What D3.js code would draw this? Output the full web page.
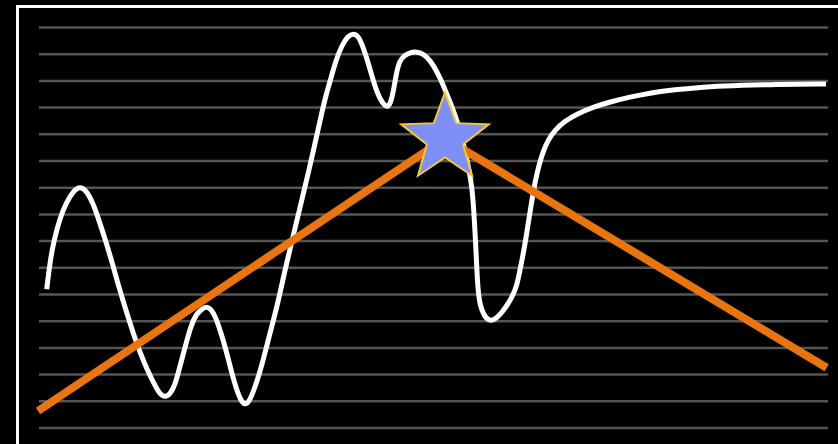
<!DOCTYPE html>
<head>
    <meta charset="utf-8" />
    <script src="https://d3js.org/d3.v7.min.js"></script>
    <style>
        body {
            margin: 0;
            background: #000;
            overflow: hidden;
        }
    </style>
    <title>chart</title>
</head>

<body>
    <script>
        // white curve (x: 0..790, y: 0..400.5)
        var curveX = [8.7, 12, 16, 22, 28, 36, 42, 48, 55, 60, 67, 75, 81, 88, 95, 102, 110, 117,
            122, 127, 132, 137, 141, 145, 149, 153, 158, 165, 169.3, 173.5, 178, 183, 188, 193,
            198, 203, 207, 211, 216, 221, 226, 231, 236, 241, 247, 253, 259, 265, 271, 276, 280,
            284, 288, 293, 298, 304, 310, 315.3, 320.5, 325, 330, 335, 340, 345, 349.3, 352.5,
            356, 359, 362, 367, 372, 378.7, 385, 392, 398, 403, 408, 412, 417, 422, 427, 431,
            434, 436, 437.5, 438.7, 440, 442, 446, 452, 459, 465, 470, 475, 479, 482, 485, 488,
            491, 494, 497, 501, 505, 510, 517, 527, 539, 555, 572, 592, 612, 632, 657, 682, 732, 788];
        var curveY = [138.2, 165.5, 187.5, 209.5, 224.5, 237.5, 240.8, 237.5, 224.5, 210, 189,
            162, 140, 117, 95, 75, 56, 42, 33, 30.5, 33, 42.5, 57.5, 72.5, 87.5,
            101.5, 113.5, 119.5, 120.8, 118, 109.5, 94.5, 77.5, 57.5, 39.5, 26.5, 22.5, 25.5,
            37.5, 52.5, 70.5, 90.5, 109.5, 129.5, 157.5, 182.5, 207.5, 232.5, 257.5, 279.5,
            297.5, 315.5, 332.5, 349.5, 367.5, 382.5, 391.5, 394.2, 391.5, 380.5, 365.5, 347.5,
            332.5, 323.5, 320.2, 323.5, 339.5, 357.5, 367.5, 372.5, 375, 375.8, 374, 367.5,
            357.5, 347.5, 335.5, 325.5, 312.5, 297.5, 277.5, 257.5, 240.5, 214.5, 187.5, 160.5,
            137.5, 122.5, 111.5, 105.8, 109.5, 116.5, 123.5, 132.5, 142.5, 157.5, 172.5, 189.5,
            209.5, 227.5, 245.5, 262.5, 275.5, 287.5, 297.5, 306.5, 313.5, 320.5, 325.5, 330.5,
            334.5, 337.5, 339.5, 341.5, 343, 343.5];

        // orange line
        var lineX = [0, 407, 788.7];
        var lineY = [16.5, 289, 59.8];

        // star marker
        var starX = 407, starY = 289;

        var gridValues = d3.range(16).map(i => i * 26.7);

        var width = 838,
            height = 444;

        var svg = d3.select("body").append("svg")
            .attr("width", width)
            .attr("height", height);

        svg.append("rect")
            .attr("width", width).attr("height", height)
            .attr("fill", "#000");

        // frame
        svg.append("rect")
            .attr("x", 17.5).attr("y", 6.5)
            .attr("width", 900).attr("height", 500)
            .attr("fill", "none")
            .attr("stroke", "#fff")
            .attr("stroke-width", 3);

        var x = d3.scaleLinear().domain([0, 790]).range([38, 828]);
        var y = d3.scaleLinear().domain([0, 400.5]).range([427.5, 27]);

        // gridlines
        var grid = svg.append("g")
            .attr("transform", "translate(" + (x(0) + 1) + ",0)")
            .call(d3.axisLeft(y).tickValues(gridValues).tickSize(-(x(790) - x(0) - 1)).tickFormat(""));
        grid.select(".domain").remove();
        grid.selectAll("line")
            .attr("stroke", "#555")
            .attr("stroke-width", 2.5);

        var pts = curveX.map((d, i) => [d, curveY[i]]);
        var line = d3.line()
            .x(d => x(d[0]))
            .y(d => y(d[1]))
            .curve(d3.curveBasis);

        svg.append("path")
            .attr("d", line(pts))
            .attr("fill", "none")
            .attr("stroke", "#fff")
            .attr("stroke-width", 5);

        var opts = lineX.map((d, i) => [d, lineY[i]]);
        svg.append("path")
            .attr("d", d3.line().x(d => x(d[0])).y(d => y(d[1]))(opts))
            .attr("fill", "none")
            .attr("stroke", "#e97510")
            .attr("stroke-width", 8);

        // star
        var R = 46, r = 19;
        var starPts = d3.range(10).map(i => {
            var a = -Math.PI / 2 + i * Math.PI / 5;
            var rad = i % 2 === 0 ? R : r;
            return [Math.cos(a) * rad, Math.sin(a) * rad];
        });
        svg.append("path")
            .attr("transform", "translate(" + x(starX) + "," + y(starY) + ")")
            .attr("d", d3.line()(starPts) + "Z")
            .attr("fill", "#7f8ff8")
            .attr("stroke", "#f2c83a")
            .attr("stroke-width", 2)
            .attr("stroke-linejoin", "miter");
    </script>
</body>
